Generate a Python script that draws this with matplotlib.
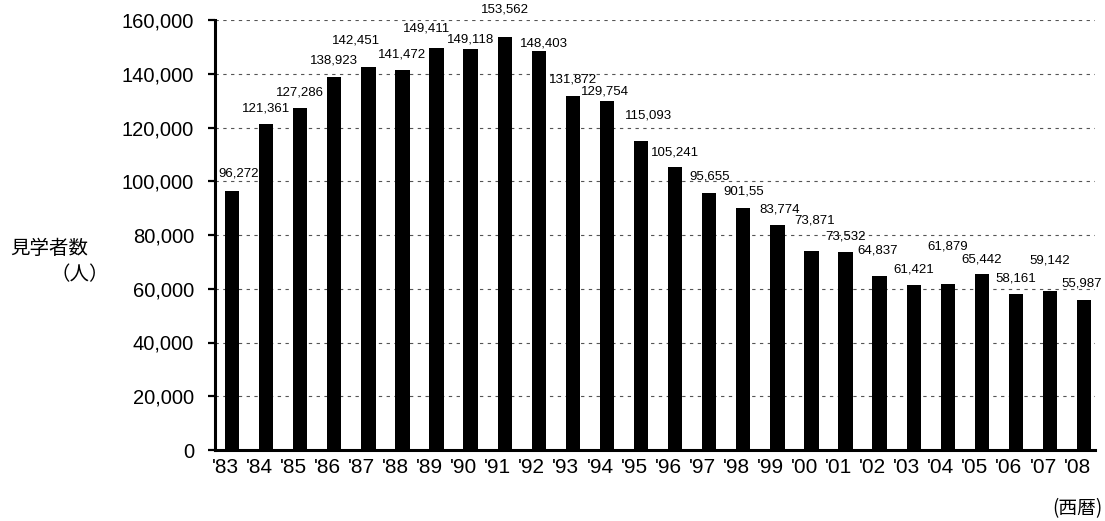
import numpy as np
import matplotlib
matplotlib.use("Agg")
import matplotlib.pyplot as plt
import matplotlib.transforms as mtransforms
from matplotlib.ticker import MultipleLocator, FuncFormatter

plt.rcParams['font.family'] = ['Liberation Sans', 'Noto Sans CJK JP', 'DejaVu Sans']

# Yearly visitor counts, as printed above each bar
years = ["'83", "'84", "'85", "'86", "'87", "'88", "'89", "'90", "'91", "'92",
         "'93", "'94", "'95", "'96", "'97", "'98", "'99", "'00", "'01", "'02",
         "'03", "'04", "'05", "'06", "'07", "'08"]
label_text = ["96,272", "121,361", "127,286", "138,923", "142,451", "141,472",
              "149,411", "149,118", "153,562", "148,403", "131,872", "129,754",
              "115,093", "105,241", "95,655", "901,55", "83,774", "73,871",
              "73,532", "64,837", "61,421", "61,879", "65,442", "58,161",
              "59,142", "55,987"]
visitors = [int(s.replace(",", "")) for s in label_text]

# Nudges (pixels) for the value labels so neighbours don't collide
label_offsets = [(7, 3), (0, 0), (0, 0), (0, 1), (-12, 12), (0, 0), (-10, 5),
                 (0, -5), (0, 13), (5, -7), (0, 1), (-2, -5), (7, 10), (0, 0),
                 (0, 1), (0, 1), (2, 0), (3, 16), (0, 1), (-2, 10), (0, 0),
                 (0, 22), (0, 0), (0, 0), (0, 16), (-2, 1)]

W, H = 1105, 521
fig = plt.figure(figsize=(W / 100, H / 100), dpi=100)
ax = fig.add_axes([215 / W, 1 - 450 / H, 880 / W, 430 / H])

x = np.arange(len(years))
ax.bar(x, visitors, width=0.42, color='black', zorder=3)

ax.set_xlim(-0.5, 25.32)
ax.set_ylim(0, 160000)
ax.yaxis.set_major_locator(MultipleLocator(20000))
ax.yaxis.set_major_formatter(FuncFormatter(lambda v, p: f"{int(v):,}"))
ax.set_xticks(x)
ax.set_xticklabels(years)

# dashed horizontal grid behind the bars
ax.grid(axis='y', color='#555555', linestyle=(0, (3, 4)), linewidth=0.8)
ax.set_axisbelow(True)

for side in ['top', 'right']:
    ax.spines[side].set_visible(False)
ax.spines['left'].set_linewidth(2.2)
ax.spines['bottom'].set_linewidth(2.2)

ax.tick_params(axis='y', direction='out', length=5, width=1.6, labelsize=14.5, pad=10)
ax.tick_params(axis='x', length=0, labelsize=15, pad=6)

# year labels sit a little left of the bar centres
shift = mtransforms.ScaledTranslation(-7 / 100, 0, fig.dpi_scale_trans)
for lbl in ax.get_xticklabels():
    lbl.set_transform(lbl.get_transform() + shift)

for i, (v, t) in enumerate(zip(visitors, label_text)):
    dx, dy = label_offsets[i]
    ax.annotate(t, (x[i], v), xytext=(dx, 15 + dy), textcoords='offset pixels',
                ha='center', va='center', fontsize=9.5, zorder=4)

jp = ['Noto Sans CJK JP', 'DejaVu Sans']
fig.text(10 / W, 1 - 249 / H, '見学者数', family=jp, fontsize=14, ha='left', va='center')
fig.text(109 / W, 1 - 275 / H, '（人）', family=jp, fontsize=14, ha='right', va='center')
fig.text(1103 / W, 1 - 509 / H, '(西暦)', family=jp, fontsize=13.5, ha='right', va='center')

fig.savefig('out.png', dpi=100)
